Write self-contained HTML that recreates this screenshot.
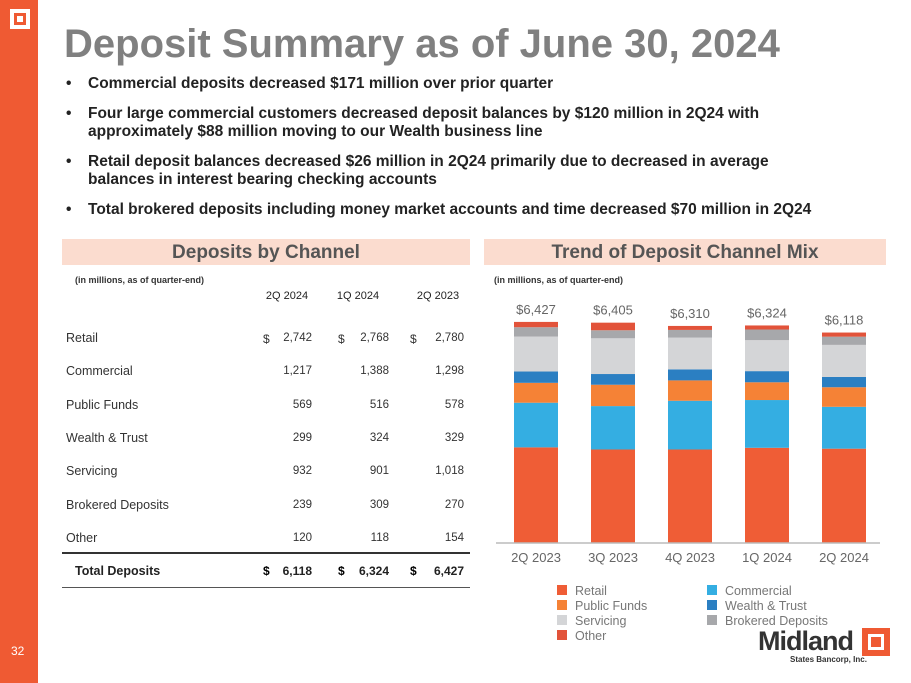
<!DOCTYPE html>
<html><head><meta charset="utf-8"><style>
body{margin:0;width:911px;height:683px;position:relative;background:#fff;font-family:"Liberation Sans",sans-serif;overflow:hidden}
.a{position:absolute}
.bul{position:absolute;left:66px;font-weight:bold;font-size:15.5px;color:#222;line-height:18px}
.bul span{position:absolute;left:0}
.bul div{margin-left:22px}
.hdr{position:absolute;top:239px;height:26px;background:#fbdccf;font-weight:bold;font-size:19px;color:#555;text-align:center;line-height:27px}
.sub{position:absolute;font-size:9px;font-weight:bold;color:#333}
</style></head><body>
<div class="a" style="left:0;top:0;width:38px;height:683px;background:#ef5a33"></div>
<div class="a" style="left:10px;top:9px;width:12px;height:12px;border:4px solid #fff;background:#ef5a33"><div style="margin:3px;width:6px;height:6px;background:#fff"></div></div>
<div class="a" style="left:11px;top:644px;color:#fff;font-size:12px">32</div>
<div class="a" style="left:64px;top:22px;font-size:40px;font-weight:bold;color:#808080">Deposit Summary as of June 30, 2024</div>
<div class="bul" style="top:75px"><span>•</span><div>Commercial deposits decreased $171 million over prior quarter</div></div>
<div class="bul" style="top:105px"><span>•</span><div>Four large commercial customers decreased deposit balances by $120 million in 2Q24 with<br>approximately $88 million moving to our Wealth business line</div></div>
<div class="bul" style="top:153px"><span>•</span><div>Retail deposit balances decreased $26 million in 2Q24 primarily due to decreased in average<br>balances in interest bearing checking accounts</div></div>
<div class="bul" style="top:201px"><span>•</span><div>Total brokered deposits including money market accounts and time decreased $70 million in 2Q24</div></div>

<div class="hdr" style="left:62px;width:408px">Deposits by Channel</div>
<div class="hdr" style="left:484px;width:402px">Trend of Deposit Channel Mix</div>
<div class="sub" style="left:75px;top:275px">(in millions, as of quarter-end)</div>
<div class="sub" style="left:494px;top:275px">(in millions, as of quarter-end)</div>

<div id="tbl"></div>
<div class="a" style="left:62px;top:552px;width:408px;height:2px;background:#333"></div>
<div class="a" style="left:62px;top:587px;width:408px;height:1px;background:#555"></div>

<svg class="a" style="left:0;top:0" width="911" height="683" id="chart"></svg>

<div class="a" style="left:758px;top:626px;font-size:27px;font-weight:bold;color:#333;letter-spacing:-1px">Midland</div>
<div class="a" style="left:790px;top:655px;font-size:8px;font-weight:bold;color:#333">States Bancorp, Inc.</div>
<div class="a" style="left:862px;top:628px;width:28px;height:28px;background:#ef5a33"><div style="position:absolute;left:6px;top:6px;width:10px;height:10px;border:3px solid #fff"></div></div>

<script>
const tblRows=["Retail","Commercial","Public Funds","Wealth & Trust","Servicing","Brokered Deposits","Other"];
const tblHeads=["2Q 2024","1Q 2024","2Q 2023"];
const tbl2Q24=["2,742","1,217","569","299","932","239","120"];
const tbl1Q24=["2,768","1,388","516","324","901","309","118"];
const tbl2Q23=["2,780","1,298","578","329","1,018","270","154"];
const tblTotals=["6,118","6,324","6,427"];
const t=document.getElementById('tbl');
const colR=[312,389,464],colD=[263,338,410],hc=[287,358,438];
let h='';
tblHeads.forEach((x,i)=>{h+=`<div class="a" style="left:${hc[i]-30}px;width:60px;top:290px;text-align:center;font-size:11px;color:#222">${x}</div>`});
tblRows.forEach((n,i)=>{const y=331+i*33.3;const v=[tbl2Q24[i],tbl1Q24[i],tbl2Q23[i]];
h+=`<div class="a" style="left:66px;top:${y}px;font-size:12.5px;color:#333">${n}</div>`;
v.forEach((s,j)=>{h+=`<div class="a" style="left:${colR[j]-60}px;width:60px;text-align:right;top:${y+1}px;font-size:11.5px;color:#333">${s}</div>`;if(i==0)h+=`<div class="a" style="left:${colD[j]}px;top:${y+1}px;font-size:12px;color:#333">$</div>`;});});
h+=`<div class="a" style="left:75px;top:564px;font-size:12.5px;font-weight:bold;color:#222">Total Deposits</div>`;
tblTotals.forEach((s,j)=>{h+=`<div class="a" style="left:${colR[j]-60}px;width:60px;text-align:right;top:564px;font-size:12px;font-weight:bold;color:#222">${s}</div><div class="a" style="left:${colD[j]}px;top:564px;font-size:12px;font-weight:bold">$</div>`});
t.innerHTML=h;

const quarters=["2Q 2023","3Q 2023","4Q 2023","1Q 2024","2Q 2024"];
const totals=["$6,427","$6,405","$6,310","$6,324","$6,118"];
const retail=[2780,2718,2718,2768,2742];
const commercial=[1298,1262,1417,1388,1217];
const publicFunds=[578,621,592,516,569];
const wealth=[329,311,320,324,299];
const servicing=[1018,1039,924,901,932];
const brokered=[270,233,223,309,239];
const other=[154,221,116,118,120];
const series=[["Retail",retail,"#ef5d36"],["Commercial",commercial,"#34aee2"],["Public Funds",publicFunds,"#f58236"],["Wealth & Trust",wealth,"#2b7fc2"],["Servicing",servicing,"#d4d5d7"],["Brokered Deposits",brokered,"#a7a8ab"],["Other",other,"#e2533a"]];
const svg=document.getElementById('chart');const NS='http://www.w3.org/2000/svg';
const base=543,k=0.0344;
const y=v=>base-v*k;const xc=i=>536+i*77;
function mk(tag,attrs,txt){const e=document.createElementNS(NS,tag);for(const a in attrs)e.setAttribute(a,attrs[a]);if(txt!=null)e.textContent=txt;svg.appendChild(e);return e;}
quarters.forEach((q,i)=>{let cum=0;
series.forEach(([n,arr,c])=>{const r=mk('rect',{x:xc(i)-22,y:y(cum+arr[i]),width:44,height:arr[i]*k,fill:c});

cum+=arr[i];});
const tl=mk('text',{x:xc(i),y:y(cum)-8,'text-anchor':'middle','font-size':13,fill:'#666','font-family':'Liberation Sans'},totals[i]);


const xl=mk('text',{x:xc(i),y:562,'text-anchor':'middle','font-size':13,fill:'#666','font-family':'Liberation Sans'},q);

});
const ax=mk('line',{x1:496,x2:880,y1:base,y2:base,stroke:'#bbb','stroke-width':1.5});


const lg=[[0,0],[1,0],[0,1],[1,1],[0,2],[1,2],[0,3]];
series.forEach(([n,arr,c],i)=>{const lx=[557,707][lg[i][0]],ly=585+lg[i][1]*15;
const r=mk('rect',{x:lx,y:ly,width:10,height:10,fill:c});


const tx=mk('text',{x:lx+18,y:ly+10,'font-size':12.5,fill:'#777','font-family':'Liberation Sans'},n);

});
</script>
</body></html>
